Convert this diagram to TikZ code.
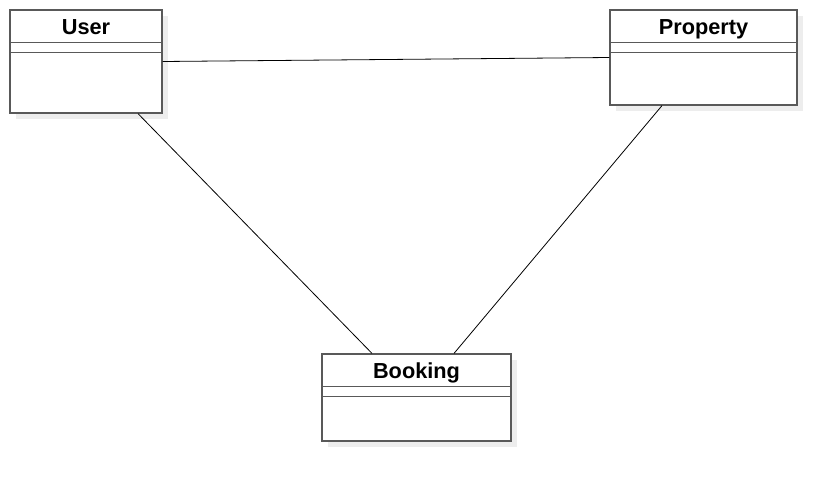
\documentclass[tikz,border=0pt]{standalone}
\usepackage{fontspec}
\setmainfont{Liberation Sans}
\usetikzlibrary{shadows}
\def\px{0.75pt}
\tikzset{every path/.style={line width=0.6pt},
  umlbox/.style={draw=black!65, fill=white, line width=0.9pt, inner sep=0pt,
    drop shadow={shadow xshift=4.5pt, shadow yshift=-4.5pt, fill=black!7, opacity=1}},
  umltitle/.style={font=\fontsize{16.3}{19}\selectfont\bfseries, inner sep=0pt, anchor=base},
  umlline/.style={draw=black!65, line width=1pt}}

\begin{document}
\begin{tikzpicture}[x=0.75pt,y=-0.75pt]
   \useasboundingbox (0,0) rectangle (836,482);
   % class boxes: name/x/y/width/height/label
   \foreach \name/\x/\y/\w/\h/\lbl in {user/86/61.5/152/103/User,
                                       property/703.5/57.5/187/95/Property,
                                       booking/416.5/397.5/189/87/Booking} {
    \node[umlbox, minimum width=\w*\px, minimum height=\h*\px] (\name) at (\x,\y) {};
    \node[umltitle] (\name title) at ([yshift=-25*\px]\name.north) {\lbl};
    \draw[umlline] ([yshift=-33*\px]\name.north west) -- ([yshift=-33*\px]\name.north east);
    \draw[umlline] ([yshift=-43*\px]\name.north west) -- ([yshift=-43*\px]\name.north east);
   }
   % associations
   \draw (user.east) -- (property.west);
   \draw ([xshift=52*\px]user.south) -- ([xshift=-44.5*\px]booking.north);
   \draw ([xshift=-41.5*\px]property.south) -- ([xshift=37.5*\px]booking.north);
\end{tikzpicture}
\end{document}
